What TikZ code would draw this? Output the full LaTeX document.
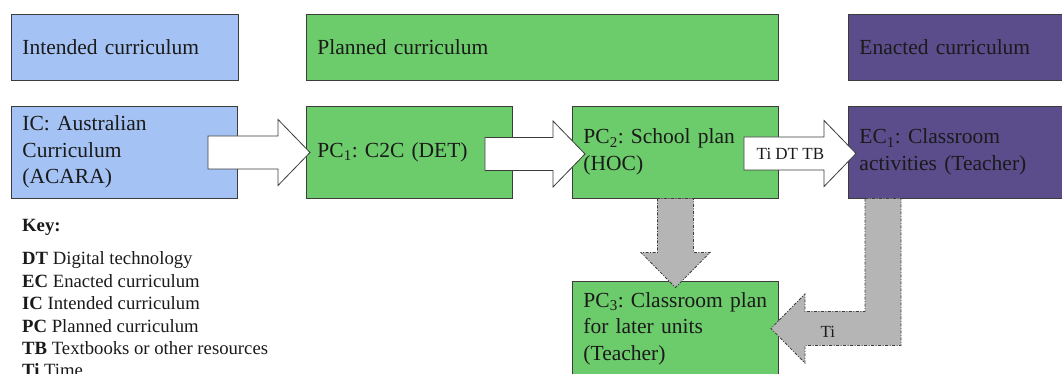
\documentclass[tikz,border=0pt]{standalone}
\usepackage{fontspec}
\setmainfont{Liberation Serif}
\usetikzlibrary{calc}

\definecolor{icblue}{HTML}{A4C2F4}
\definecolor{pcgreen}{HTML}{6CCB6A}
\definecolor{ecpurple}{HTML}{5B4D8C}
\definecolor{edge}{HTML}{3C3C3C}
\definecolor{ink}{HTML}{1A1A1A}
\definecolor{flowgray}{HTML}{B5B5B5}

\newcommand\boxfont{\fontsize{21.5}{26.5}\selectfont}
\newcommand\keyfont{\fontsize{18.7}{22.4}\selectfont}
\newcommand\tagfont{\fontsize{17}{20}\selectfont}

\tikzset{
  stage/.style={draw=edge, line width=0.9pt, anchor=west, align=left,
    inner xsep=11pt, inner ysep=0pt, font=\boxfont, text=ink},
  header/.style={stage, minimum height=66pt},
  phase/.style={stage, minimum height=92pt},
  intended/.style={fill=icblue},
  planned/.style={fill=pcgreen},
  enacted/.style={fill=ecpurple},
  pushflow/.style={draw=edge, line width=0.8pt, fill=white, line join=miter},
  feedflow/.style={draw=edge, line width=0.8pt, fill=flowgray,
    dash pattern=on 3pt off 1.5pt on 1pt off 1.5pt},
  keyline/.style={anchor=base west, inner sep=0pt, font=\keyfont, text=ink},
  tag/.style={font=\tagfont, text=ink, inner sep=0pt},
}

% wide block arrow pointing right: tail centre #1, tip #2
\newcommand\flowright[2]{%
  \draw[pushflow] let \p1=(#1), \p2=(#2) in
    (\x1,\y1+16.5pt) -- (\x2-32pt,\y1+16.5pt) -- (\x2-32pt,\y1+33pt)
    -- (\x2,\y1) -- (\x2-32pt,\y1-33pt) -- (\x2-32pt,\y1-16.5pt)
    -- (\x1,\y1-16.5pt) -- cycle;}

\begin{document}
\frenchspacing
\begin{tikzpicture}[x=1pt,y=1pt]
  \useasboundingbox (0,0) rectangle (1062,374);
  \fill[white] (0,0) rectangle (1062,374);
  \clip (0,0) rectangle (1062,374);

  % column headers
  \node[header,intended,text width=205pt] (hIC) at (11,327) {Intended curriculum};
  \node[header,planned,text width=450pt] (hPC) at (306,327) {Planned curriculum};
  \node[header,enacted,text width=200pt] (hEC) at (848,327) {Enacted curriculum};

  % curriculum stages
  \node[phase,intended,text width=204pt] (ic) at (11,222)
    {IC: Australian\\Curriculum\\(ACARA)};
  \node[phase,planned,text width=184pt] (pc1) at (306,222)
    {PC\textsubscript{1}: C2C (DET)};
  \node[phase,planned,text width=184pt] (pc2) at (572,222)
    {PC\textsubscript{2}: School plan\\(HOC)};
  \node[phase,enacted,text width=200pt] (ec1) at (848,222)
    {EC\textsubscript{1}: Classroom\\activities (Teacher)};
  \node[stage,planned,text width=184pt,minimum height=95pt] (pc3) at (572,45.5)
    {PC\textsubscript{3}: Classroom plan\\for later units\\(Teacher)};

  % forward flow arrows
  \coordinate (a1s) at ($(ic.east)+(-30,-0.5)$);
  \coordinate (a1t) at ($(pc1.west)+(4,-0.5)$);
  \coordinate (a2s) at ($(pc1.east)+(-28,-2)$);
  \coordinate (a2t) at ($(pc2.west)+(13,-2)$);
  \coordinate (a3s) at ($(pc2.east)+(-35,-1.5)$);
  \coordinate (a3t) at ($(ec1.west)+(8,-1.5)$);
  \flowright{a1s}{a1t}
  \flowright{a2s}{a2t}
  \flowright{a3s}{a3t}
  \node[tag] (t3) at ($(a3s)+(46.5,0)$) {Ti DT TB};

  % school plan feeds the classroom plan
  \coordinate (d1s) at (pc2.south);
  \coordinate (d1t) at ($(pc3.north)+(0,-7)$);
  \draw[feedflow] let \p1=(d1s), \p2=(d1t) in
    (\x1-18pt,\y1) -- (\x1-18pt,\y2+35pt) -- (\x1-34.5pt,\y2+35pt)
    -- (\x2,\y2) -- (\x1+34.5pt,\y2+35pt) -- (\x1+18pt,\y2+35pt)
    -- (\x1+18pt,\y1) -- cycle;

  % classroom activities loop back over time
  \coordinate (l1s) at ($(ec1.south west)+(35,0)$);
  \coordinate (l1t) at ($(pc3.east)+(-8,0)$);
  \draw[feedflow] let \p1=(l1s), \p2=(l1t) in
    (\x1-18pt,\y1) -- (\x1+18pt,\y1) -- (\x1+18pt,\y2-17pt)
    -- (\x2+34pt,\y2-17pt) -- (\x2+34pt,\y2-34.5pt) -- (\x2,\y2)
    -- (\x2+34pt,\y2+34.5pt) -- (\x2+34pt,\y2+17pt)
    -- (\x1-18pt,\y2+17pt) -- cycle;
  \node[tag] (tl) at ($(l1t)+(57,-3.5)$) {Ti};

  % key
  \node[keyline,font=\keyfont\bfseries] (key) at (22,142) {Key:};
  \foreach \abbr/\gloss [count=\i] in {DT/Digital technology,
      EC/Enacted curriculum, IC/Intended curriculum, PC/Planned curriculum,
      TB/Textbooks or other resources, Ti/Time}
    \node[keyline] (key\i) at (22,{109-(\i-1)*22.4}) {\textbf{\abbr} \gloss};
\end{tikzpicture}
\end{document}
